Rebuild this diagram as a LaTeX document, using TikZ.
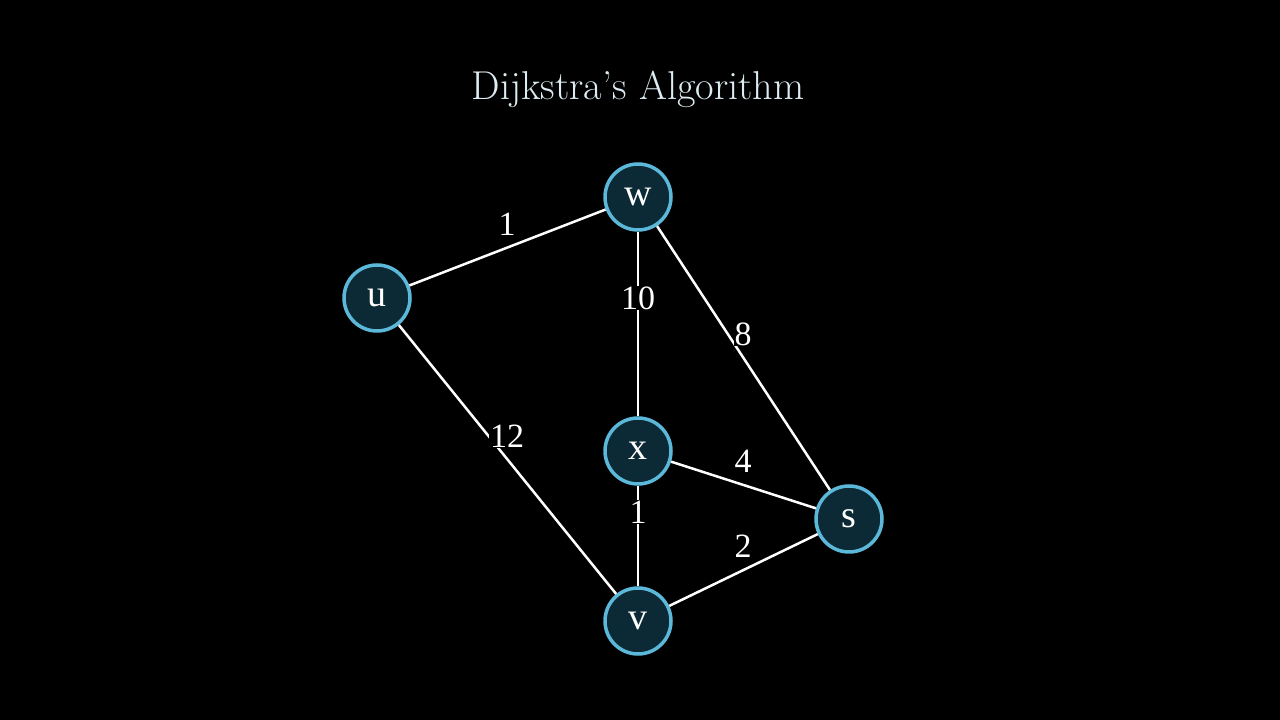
\documentclass[tikz,border=0pt]{standalone}
\usepackage{fontspec}
\newfontfamily\tnr{Liberation Serif}
\definecolor{nodefill}{HTML}{0C2A35}
\definecolor{nodeedge}{HTML}{5CB8D9}
\definecolor{titlecol}{HTML}{DCECF2}
\tikzset{
  vert/.style={circle, draw=nodeedge, line width=3.5pt, fill=nodefill, minimum size=66pt, inner sep=0pt,
    text=white, font=\tnr\fontsize{38}{38}\selectfont},
  wlabel/.style={fill=black, inner sep=1pt, text=white, font=\tnr\fontsize{34}{34}\selectfont},
  edge/.style={draw=white, line width=2.5pt}
}
\begin{document}
\begin{tikzpicture}[x=1pt,y=1pt]
\fill[black] (0,0) rectangle (1280,720);
\useasboundingbox (0,0) rectangle (1280,720);
\node[text=titlecol, font=\fontsize{40.3}{40.3}\selectfont] (title) at (638,631) {Dijkstra's Algorithm};
\node[vert] (w) at (638,523) {w};
\node[vert] (u) at (377,422) {u};
\node[vert] (x) at (638,269) {x};
\node[vert] (s) at (849,201) {s};
\node[vert] (v) at (638,99) {v};
\draw[edge] (u) -- (w);
\draw[edge] (w) -- (x);
\draw[edge] (w) -- (s);
\draw[edge] (u) -- (v);
\draw[edge] (x) -- (s);
\draw[edge] (x) -- (v);
\draw[edge] (v) -- (s);
\node[wlabel] (l1) at (507,496) {1};
\node[wlabel] (l10) at (638,422) {10};
\node[wlabel] (l8) at (743,386) {8};
\node[wlabel] (l12) at (507,284) {12};
\node[wlabel] (l4) at (743,259) {4};
\node[wlabel] (l1b) at (638,208) {1};
\node[wlabel] (l2) at (743,174) {2};
\end{tikzpicture}
\end{document}
